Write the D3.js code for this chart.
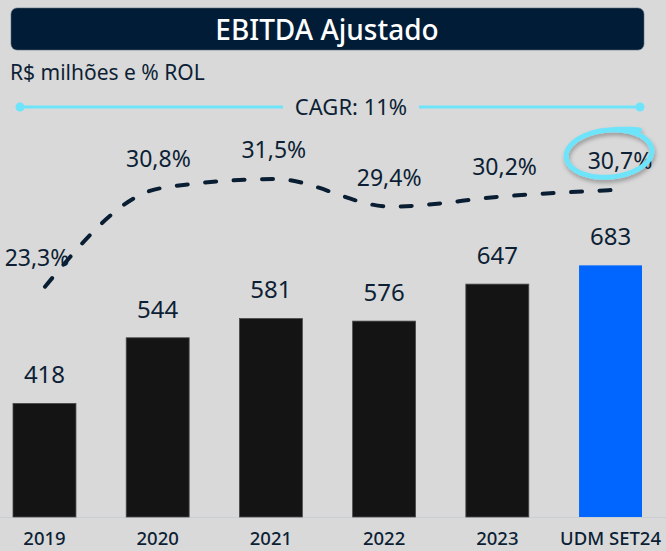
<!doctype html>
<html>
    <head>
        <script src="https://d3js.org/d3.v7.min.js"></script>
        <style>
            body { margin: 0; background: #d9d9d9; }
            svg { display: block; font-family: "Noto Sans", sans-serif; }
        </style>
    </head>
    <body>
        <div id="viz">
            <svg style="width:666px;height:551px;"></svg>
        </div>

        <script>
            var categories = ["2019", "2020", "2021", "2022", "2023", "UDM SET24"];
            var ebitda = [418, 544, 581, 576, 647, 683];
            var margin = [23.3, 30.8, 31.5, 29.4, 30.2, 30.7];
            var marginLabels = ["23,3%", "30,8%", "31,5%", "29,4%", "30,2%", "30,7%"];
            var title = "EBITDA Ajustado";
            var subtitle = "R$ milhões e % ROL";
            var cagrLabel = "CAGR: 11%";

            var navy = "#0d1f35";
            var cyan = "#6ee4fa";

            var svg = d3.select("svg");

            // header
            svg.append("rect")
                .attr("x", 11).attr("y", 8)
                .attr("width", 633).attr("height", 42)
                .attr("rx", 6)
                .style("fill", "#011c36")
                .style("stroke", "#5b6b7a").style("stroke-width", 0.6);

            svg.append("text")
                .attr("x", 327).attr("y", 40)
                .attr("text-anchor", "middle")
                .style("fill", "#fff").style("font-size", "28px").style("font-weight", 500)
                .text(title);

            svg.append("text")
                .attr("x", 10).attr("y", 80)
                .style("fill", navy).style("font-size", "21px")
                .text(subtitle);

            // CAGR bracket
            var cagrY = 107;
            svg.append("line").attr("x1", 20).attr("x2", 283).attr("y1", cagrY).attr("y2", cagrY)
                .style("stroke", cyan).style("stroke-width", 3);
            svg.append("line").attr("x1", 419).attr("x2", 640).attr("y1", cagrY).attr("y2", cagrY)
                .style("stroke", cyan).style("stroke-width", 3);
            svg.selectAll("circle.cagr")
                .data([20, 640])
                .enter()
                .append("circle")
                    .attr("class", "cagr")
                    .attr("cx", d => d).attr("cy", cagrY).attr("r", 4.5)
                    .style("fill", cyan);
            svg.append("text")
                .attr("x", 351).attr("y", 115)
                .attr("text-anchor", "middle")
                .style("fill", navy).style("font-size", "22px")
                .text(cagrLabel);

            // bars
            var xScale = d3.scaleBand().domain(categories).range([13, 642])
                .paddingInner(0.444).paddingOuter(0);
            var yScale = d3.scaleLinear().domain([200, 700]).range([517, 256.5]);

            svg.append("line")
                .attr("x1", 0).attr("x2", 666).attr("y1", 517.5).attr("y2", 517.5)
                .style("stroke", "#c9d0d4").style("stroke-width", 1);

            svg.selectAll("rect.bar")
                .data(ebitda)
                .enter()
                .append("rect")
                    .attr("class", "bar")
                    .attr("x", (d, i) => xScale(categories[i]))
                    .attr("y", d => yScale(d))
                    .attr("width", xScale.bandwidth())
                    .attr("height", d => yScale(200) - yScale(d))
                    .style("fill", (d, i) => i === categories.length - 1 ? "#0066ff" : "#141414")
                    .style("stroke", (d, i) => i === categories.length - 1 ? "none" : "#4a4a4a")
                    .style("stroke-width", 0.8);

            svg.selectAll("text.value")
                .data(ebitda)
                .enter()
                .append("text")
                    .attr("class", "value")
                    .attr("x", (d, i) => xScale(categories[i]) + xScale.bandwidth() / 2)
                    .attr("y", d => yScale(d) - 20)
                    .attr("text-anchor", "middle")
                    .style("fill", navy).style("font-size", "24px")
                    .text(d => d);

            var xAxis = d3.axisBottom(xScale).tickSize(0).tickPadding(0);
            var xAxisG = svg.append("g").attr("id", "xAxisG")
                .attr("transform", "translate(0,532)")
                .call(xAxis);
            xAxisG.select("path.domain").remove();
            xAxisG.selectAll("text")
                .attr("dy", "0.71em")
                .style("fill", navy).style("font-size", "18.5px").style("font-weight", 500)
                .style("font-family", "'Noto Sans', sans-serif");

            // margin line
            var lineX = d3.scalePoint().domain(categories).range([45, 622]);
            var lineY = d3.scaleLinear().domain([20, 32]).range([330, 172.5]);

            var line = d3.line()
                .x((d, i) => lineX(categories[i]))
                .y(d => lineY(d))
                .curve(d3.curveMonotoneX);

            svg.append("path")
                .datum(margin)
                .attr("d", line)
                .style("fill", "none")
                .style("stroke", "#0a1e33")
                .style("stroke-width", 4)
                .style("stroke-linecap", "round")
                .style("stroke-dasharray", "11,17.5");

            svg.selectAll("text.margin")
                .data(margin)
                .enter()
                .append("text")
                    .attr("class", "margin")
                    .attr("x", (d, i) => lineX(categories[i]) + (i === 0 ? -8 : -2))
                    .attr("y", d => lineY(d) - 21)
                    .attr("text-anchor", "middle")
                    .style("fill", navy).style("font-size", "23px")
                    .text((d, i) => marginLabels[i]);

            // highlight ring around the last margin
            var defs = svg.append("defs");
            var shadow = defs.append("filter").attr("id", "shadow")
                .attr("x", "-20%").attr("y", "-20%").attr("width", "140%").attr("height", "160%");
            shadow.append("feDropShadow")
                .attr("dx", 1).attr("dy", 3).attr("stdDeviation", 2)
                .attr("flood-color", "#000").attr("flood-opacity", 0.3);

            var last = margin.length - 1;
            var cx = lineX(categories[last]) - 13;
            var cy = lineY(margin[last]) - 36;
            var ring = d3.path();
            var rx = 43, ry = 23.5, rot = -5 * Math.PI / 180;
            var pt = function (a) {
                var ex = rx * Math.cos(a), ey = ry * Math.sin(a);
                return [cx + ex * Math.cos(rot) - ey * Math.sin(rot), cy + ex * Math.sin(rot) + ey * Math.cos(rot)];
            };
            var a0 = -1.45, a1 = a0 + 2 * Math.PI + 0.55;
            var p0 = pt(a0);
            ring.moveTo(p0[0], p0[1]);
            for (var a = a0; a <= a1; a += 0.05) {
                var p = pt(a);
                var grow = a > a0 + 2 * Math.PI ? (a - a0 - 2 * Math.PI) * 14 : 0;
                ring.lineTo(p[0] + grow * 0.9, p[1] - grow * 0.35);
            }
            svg.append("path")
                .attr("d", ring.toString())
                .attr("filter", "url(#shadow)")
                .style("fill", "none")
                .style("stroke", cyan)
                .style("stroke-width", 5)
                .style("stroke-linecap", "round")
                .style("stroke-linejoin", "round");
        </script>
    </body>
</html>
